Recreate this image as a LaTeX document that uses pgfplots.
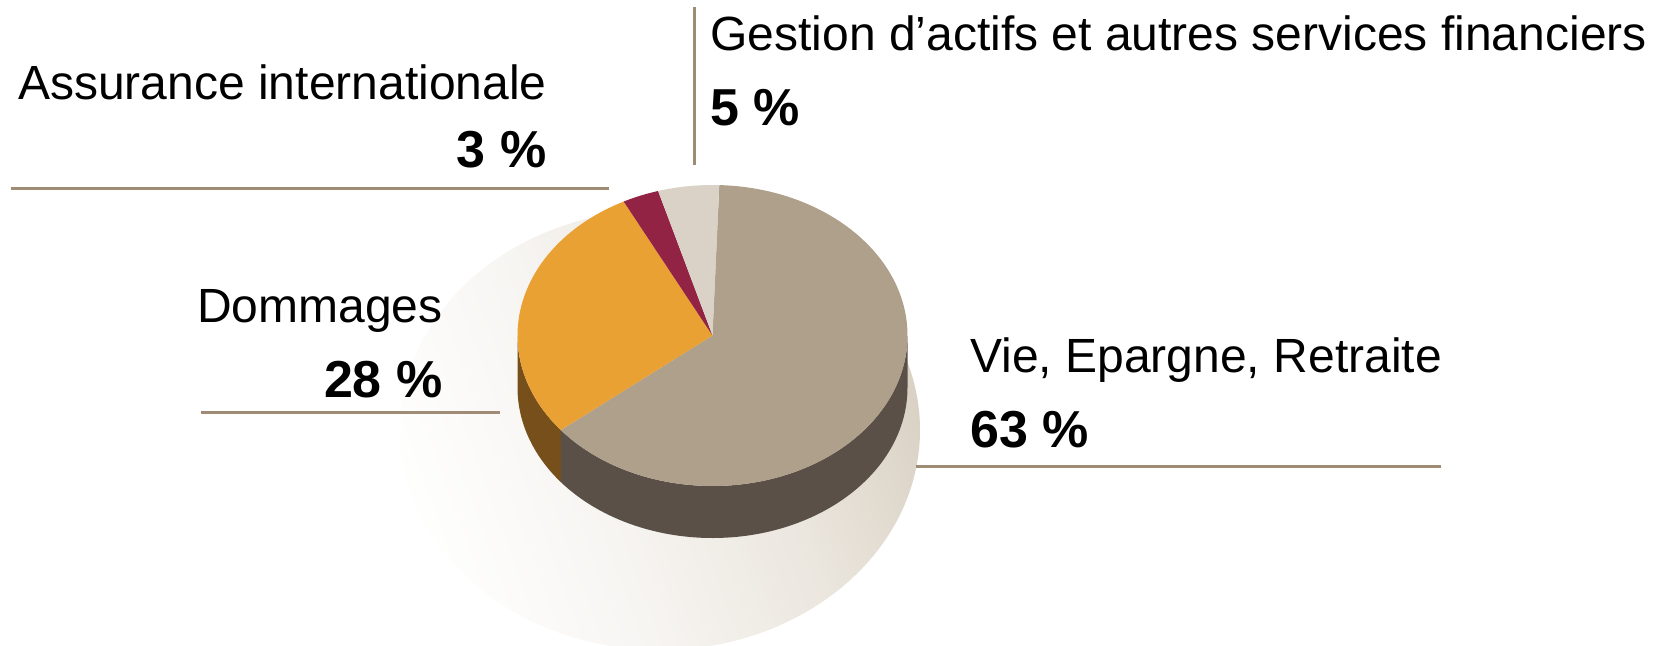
\documentclass[border=0pt]{standalone}
\usepackage{pgfplots}
\usepackage{pgfplotstable}
\pgfplotsset{compat=1.18}
\usepackage{fontspec}
\setmainfont{Liberation Sans}

\definecolor{vieTop}{RGB}{175,160,140}
\definecolor{vieSide}{RGB}{90,80,72}
\definecolor{domTop}{RGB}{234,161,52}
\definecolor{domSide}{RGB}{119,79,26}
\definecolor{assTop}{RGB}{147,35,68}
\definecolor{gesTop}{RGB}{218,210,198}
\definecolor{lineC}{RGB}{160,140,116}
\definecolor{sh0}{RGB}{254,254,253}
\definecolor{shA}{RGB}{247,245,242}
\definecolor{shB}{RGB}{235,230,222}
\definecolor{shC}{RGB}{218,210,197}

\pgfdeclarehorizontalshading{pieshadow}{100bp}{color(0bp)=(sh0); color(25bp)=(sh0); color(42bp)=(shA); color(60bp)=(shB); color(75bp)=(shC); color(100bp)=(shC)}

% shares (%), clockwise from the top
\pgfplotstableread{
value
63
28
3
5
}\piedata

\begin{document}
\begin{tikzpicture}
\pgfplotstablegetelem{0}{value}\of\piedata \edef\vVie{\pgfplotsretval}
\pgfplotstablegetelem{1}{value}\of\piedata \edef\vDom{\pgfplotsretval}
\pgfplotstablegetelem{2}{value}\of\piedata \edef\vAss{\pgfplotsretval}
\pgfplotstablegetelem{3}{value}\of\piedata \edef\vGes{\pgfplotsretval}
\pgfmathsetmacro\tot{\vVie+\vDom+\vAss+\vGes}
\pgfmathsetmacro\aA{88}
\pgfmathsetmacro\aB{\aA-360*(\vVie/\tot)}
\pgfmathsetmacro\aC{\aB-360*(\vDom/\tot)}
\pgfmathsetmacro\aD{\aC-360*(\vAss/\tot)}
\pgfmathsetmacro\aE{\aD-360*(\vGes/\tot)}
\def\cx{712.5}\def\cy{309.5}\def\rx{195}\def\ry{150.5}
\def\RX{97.5pt}\def\RY{75.25pt}\def\D{26pt}
\newcommand\topslice[3]{\fill[#3] (axis cs:\cx,\cy) -- (axis cs:{\cx+\rx*cos(#1)},{\cy+\ry*sin(#1)}) arc[start angle=#1,end angle=#2,x radius=\RX,y radius=\RY] -- cycle;}
\newcommand\sideslice[3]{\fill[#3] (axis cs:{\cx+\rx*cos(#1)},{\cy+\ry*sin(#1)}) arc[start angle=#1,end angle=#2,x radius=\RX,y radius=\RY] -- ++(0pt,-\D) arc[start angle=#2,end angle=#1,x radius=\RX,y radius=\RY] -- cycle;}
\begin{axis}[
  x=0.5pt, y=0.5pt,
  xmin=0, xmax=1662, ymin=0, ymax=645,
  enlargelimits=false,
  hide axis,
  clip=true,
]
\path (axis cs:0,0) rectangle (axis cs:1662,645);
% soft shadow
\begin{scope}
\clip (axis cs:0,0) rectangle (axis cs:1662,645);
\shade[shading=pieshadow, shading angle=20] (axis cs:660,215) ellipse[x radius=130pt, y radius=110pt];
\end{scope}
% sides
\sideslice{-180}{\aB}{domSide}
\sideslice{\aB}{0}{vieSide}
% tops
\topslice{\aA}{\aB}{vieTop}
\topslice{\aB}{\aC}{domTop}
\topslice{\aC}{\aD}{assTop}
\topslice{\aD}{\aE}{gesTop}
% leader lines
\draw[lineC, line width=1.3pt] (axis cs:694.5,638) -- (axis cs:694.5,480);
\draw[lineC, line width=1.3pt] (axis cs:10.5,456.3) -- (axis cs:609,456.3);
\draw[lineC, line width=1.3pt] (axis cs:201,232.7) -- (axis cs:500,232.7);
\draw[lineC, line width=1.3pt] (axis cs:916,178.6) -- (axis cs:1440.5,178.6);
% labels
\node[anchor=base east, inner sep=0, font=\fontsize{24}{28}\selectfont] at (axis cs:547,546) {Assurance internationale};
\node[anchor=base east, inner sep=0, font=\bfseries\fontsize{26}{30}\selectfont] at (axis cs:547,478) {3 \%};
\node[anchor=base west, inner sep=0, font=\fontsize{24}{28}\selectfont] at (axis cs:710,595) {Gestion d’actifs et autres services financiers};
\node[anchor=base west, inner sep=0, font=\bfseries\fontsize{26}{30}\selectfont] at (axis cs:710,520) {5 \%};
\node[anchor=base east, inner sep=0, font=\fontsize{24}{28}\selectfont] at (axis cs:443,323) {Dommages};
\node[anchor=base east, inner sep=0, font=\bfseries\fontsize{26}{30}\selectfont] at (axis cs:443,248) {28 \%};
\node[anchor=base west, inner sep=0, font=\fontsize{24}{28}\selectfont] at (axis cs:970,273) {Vie, Epargne, Retraite};
\node[anchor=base west, inner sep=0, font=\bfseries\fontsize{26}{30}\selectfont] at (axis cs:970,197.7) {63 \%};
\end{axis}
\end{tikzpicture}
\end{document}
